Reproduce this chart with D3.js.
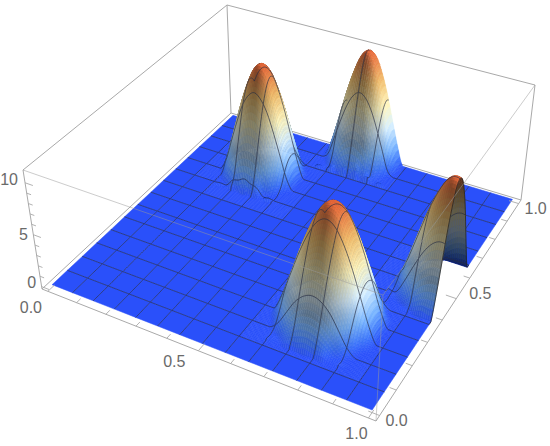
<!DOCTYPE html>
<html>
<head>
<meta charset="utf-8">
<script src="https://cdn.jsdelivr.net/npm/d3@7"></script>
<style>
html, body { margin: 0; padding: 0; background: #fff; }
text { font-family: "Liberation Sans", sans-serif; font-size: 16px; fill: #6a6a6a; }
</style>
</head>
<body>
<script>
var WIDTH = 550, HEIGHT = 446;

// tick values
var xTicks = [0, 0.1, 0.2, 0.3, 0.4, 0.5, 0.6, 0.7, 0.8, 0.9, 1];
var yTicks = [0, 0.1, 0.2, 0.3, 0.4, 0.5, 0.6, 0.7, 0.8, 0.9, 1];
var zTicks = [0, 1, 2, 3, 4, 5, 6, 7, 8, 9, 10];
var xyLabels = ["0.0", "0.5", "1.0"];
var zLabels = ["0", "5", "10"];

// where the four humps sit on the unit square, and how far they reach
var bumpX = [0.255, 0.505, 0.755, 0.99];
var bumpY = [0.76, 0.985, 0.25, 0.50];
var bumpReachX = [0.13, 0.125, 0.155, 0.145];
var bumpReachY = [0.13, 0.125, 0.16, 0.13];

// heights, rows run from low y to high y
var bump0 = [
  [0, 0, 0.3, 0, 0.4, 0, 0.5, 0, 0.4, 0, 0.4, 0, 0],
  [0, 0, 0, 0.3, 1.2, 1.8, 2, 1.8, 1.2, 0.3, 0, 0, 0],
  [0, 0, 0.7, 2, 3.3, 4.1, 4.4, 4.1, 3.3, 2, 0.7, 0, 0],
  [0, 0.3, 2, 3.8, 5.4, 6.5, 6.9, 6.5, 5.4, 3.8, 2, 0.3, 0],
  [0, 1.2, 3.3, 5.4, 7.3, 8.5, 9, 8.5, 7.3, 5.4, 3.3, 1.2, 0],
  [0, 1.8, 4.1, 6.5, 8.5, 10, 10.5, 10, 8.5, 6.5, 4.1, 1.8, 0],
  [0, 2, 4.4, 6.9, 9, 10.5, 11, 10.5, 9, 6.9, 4.4, 2, 0],
  [0, 1.8, 4.1, 6.5, 8.5, 10, 10.5, 10, 8.5, 6.5, 4.1, 1.8, 0],
  [0, 1.2, 3.3, 5.4, 7.3, 8.5, 9, 8.5, 7.3, 5.4, 3.3, 1.2, 0],
  [0, 0.3, 2, 3.8, 5.4, 6.5, 6.9, 6.5, 5.4, 3.8, 2, 0.3, 0],
  [0, 0, 0.7, 2, 3.3, 4.1, 4.4, 4.1, 3.3, 2, 0.7, 0, 0],
  [0, 0, 0, 0.3, 1.2, 1.8, 2, 1.8, 1.2, 0.3, 0, 0, 0],
  [0, 0, 0, 0, 0, 0, 0, 0, 0, 0, 0, 0, 0]
];
var bump1 = [
  [0, 0.4, 0, 0.7, 0, 0.8, 0, 0.8, 0, 0.7, 0, 0.4, 0],
  [0, 0, 0.2, 0.5, 1.2, 1.8, 2, 1.8, 1.2, 0.5, 0.2, 0, 0],
  [0, 0, 0.7, 2, 3.3, 4.1, 4.4, 4.1, 3.3, 2, 0.7, 0, 0],
  [0, 0.3, 2, 3.8, 5.4, 6.5, 6.9, 6.5, 5.4, 3.8, 2, 0.3, 0],
  [0, 1.2, 3.3, 5.4, 7.3, 8.5, 9, 8.5, 7.3, 5.4, 3.3, 1.2, 0],
  [0, 1.8, 4.1, 6.5, 8.5, 10, 10.5, 10, 8.5, 6.5, 4.1, 1.8, 0],
  [0, 2, 4.4, 6.9, 9, 10.5, 11, 10.5, 9, 6.9, 4.4, 2, 0],
  [0, 1.8, 4.1, 6.5, 8.5, 10, 10.5, 10, 8.5, 6.5, 4.1, 1.8, 0],
  [0, 1.2, 3.3, 5.4, 7.3, 8.5, 9, 8.5, 7.3, 5.4, 3.3, 1.2, 0],
  [0, 0.3, 2, 3.8, 5.4, 6.5, 6.9, 6.5, 5.4, 3.8, 2, 0.3, 0],
  [0, 0, 0.7, 2, 3.3, 4.1, 4.4, 4.1, 3.3, 2, 0.7, 0, 0],
  [0, 0, 0, 0.3, 1.2, 1.8, 2, 1.8, 1.2, 0.3, 0, 0, 0],
  [0, 0, 0, 0, 0, 0, 0, 0, 0, 0, 0, 0, 0]
];
var bump2 = [
  [0, 0, 0.2, 0, 0.25, 0, 0.25, 0, 0.25, 0, 0.2, 0, 0],
  [0, 0, 0.1, 0.4, 1.2, 1.8, 2, 1.8, 1.2, 0.4, 0.1, 0, 0],
  [0, 0, 0.7, 2, 3.3, 4.1, 4.4, 4.1, 3.3, 2, 0.7, 0, 0],
  [0, 0.3, 2, 3.8, 5.4, 6.5, 6.9, 6.5, 5.4, 3.8, 2, 0.3, 0],
  [0, 1.2, 3.3, 5.4, 7.3, 8.5, 9, 8.5, 7.3, 5.4, 3.3, 1.2, 0],
  [0, 1.8, 4.1, 6.5, 8.5, 10, 10.5, 10, 8.5, 6.5, 4.1, 1.8, 0],
  [0, 2, 4.4, 6.9, 9, 10.5, 11, 10.5, 9, 6.9, 4.4, 2, 0],
  [0, 1.8, 4.1, 6.5, 8.5, 10, 10.5, 10, 8.5, 6.5, 4.1, 1.8, 0],
  [0, 1.2, 3.3, 5.4, 7.3, 8.5, 9, 8.5, 7.3, 5.4, 3.3, 1.2, 0],
  [0, 0.3, 2, 3.8, 5.4, 6.5, 6.9, 6.5, 5.4, 3.8, 2, 0.3, 0],
  [0, 0, 0.7, 2, 3.3, 4.1, 4.4, 4.1, 3.3, 2, 0.7, 0, 0],
  [0, 0, 0, 0.3, 1.2, 1.8, 2, 1.8, 1.2, 0.3, 0, 0, 0],
  [0, 0, 0, 0, 0, 0, 0, 0, 0, 0, 0, 0, 0]
];
var bump3 = [
  [0, 0, 0, 0.2, 0, 0.3, 0, 0.3, 0, 0.2, 0, 0, 0],
  [0, 0, 0, 0.3, 1.2, 1.8, 2, 1.8, 1.2, 0.3, 0, 0, 0],
  [0, 0.2, 0.7, 2, 3.3, 4.1, 4.4, 4.1, 3.3, 2, 0.7, 0, 0],
  [0.3, 0.3, 2, 3.8, 5.4, 6.5, 6.9, 6.5, 5.4, 3.8, 2, 0.3, 0],
  [0, 1.2, 3.3, 5.4, 7.3, 8.5, 9, 8.5, 7.3, 5.4, 3.3, 1.2, 0],
  [0.3, 1.8, 4.1, 6.5, 8.5, 10, 10.5, 10, 8.5, 6.5, 4.1, 1.8, 0],
  [0, 2, 4.4, 6.9, 9, 10.5, 11, 10.5, 9, 6.9, 4.4, 2, 0],
  [0.3, 1.8, 4.1, 6.5, 8.5, 10, 10.5, 10, 8.5, 6.5, 4.1, 1.8, 0],
  [0, 1.2, 3.3, 5.4, 7.3, 8.5, 9, 8.5, 7.3, 5.4, 3.3, 1.2, 0],
  [0, 0.3, 2, 3.8, 5.4, 6.5, 6.9, 6.5, 5.4, 3.8, 2, 0.3, 0],
  [0, 0, 0.7, 2, 3.3, 4.1, 4.4, 4.1, 3.3, 2, 0.7, 0, 0],
  [0, 0, 0, 0.3, 1.2, 1.8, 2, 1.8, 1.2, 0.3, 0, 0, 0],
  [0, 0, 0, 0, 0, 0, 0, 0, 0, 0, 0, 0, 0]
];
var bumps = [bump0, bump1, bump2, bump3];

// height colours
var colorHeights = [0, 0.8, 2, 4, 6, 8.3, 11];
var colorValues = ["#2a50fa", "#3f78fb", "#78b4ff", "#d8f0ff", "#fff6c0", "#f2c070", "#e8683a"];

var zTop = 11;
var meshCells = 14, subCells = 12;

// pixel corners of the plot box, order (0,0) (1,0) (1,1) (0,1)
var boxFloor = [[42, 289], [376, 421], [521, 200], [231, 113]];
var boxRoof = [[23, 170], [383, 295], [535, 85], [227, 5]];

var x = d3.scaleLinear().domain([0, 1]).range([0.02, 0.98]);
var y = d3.scaleLinear().domain([0, 1]).range([0.02, 0.98]);
var z = d3.scaleLinear().domain([0, zTop]).range([0.02, 0.98]);
var heightColor = d3.scaleLinear().domain(colorHeights).range(colorValues).clamp(true);

// unit square to quad (Heckbert)
function quadMap(q) {
  var dx1 = q[1][0] - q[2][0], dx2 = q[3][0] - q[2][0], sx = q[0][0] - q[1][0] + q[2][0] - q[3][0];
  var dy1 = q[1][1] - q[2][1], dy2 = q[3][1] - q[2][1], sy = q[0][1] - q[1][1] + q[2][1] - q[3][1];
  var d = dx1 * dy2 - dx2 * dy1;
  var g = (sx * dy2 - dx2 * sy) / d, h = (dx1 * sy - sx * dy1) / d;
  var a = q[1][0] - q[0][0] + g * q[1][0], b = q[3][0] - q[0][0] + h * q[3][0];
  var e = q[1][1] - q[0][1] + g * q[1][1], f = q[3][1] - q[0][1] + h * q[3][1];
  return function(s, t) {
    var w = g * s + h * t + 1;
    return [(a * s + b * t + q[0][0]) / w, (e * s + f * t + q[0][1]) / w];
  };
}
var floorAt = quadMap(boxFloor), roofAt = quadMap(boxRoof);

// s, t, r are box fractions
function boxPoint(s, t, r) {
  var p = floorAt(s, t), q = roofAt(s, t);
  return [p[0] + (q[0] - p[0]) * r, p[1] + (q[1] - p[1]) * r];
}
function project(u, v, h) { return boxPoint(x(u), y(v), z(h)); }

function spline(a, b, c, d, t) {
  return b + 0.5 * t * (c - a + t * (2 * a - 5 * b + 4 * c - d + t * (3 * (b - c) + d - a)));
}
function cell(tb, j, i) {
  j = Math.max(0, Math.min(12, j)); i = Math.max(0, Math.min(12, i));
  return tb[j][i];
}
function heightAt(u, v) {
  var total = 0;
  bumps.forEach(function(tb, k) {
    var fi = (u - bumpX[k]) / bumpReachX[k] * 6 + 6;
    var fj = (v - bumpY[k]) / bumpReachY[k] * 6 + 6;
    if (fi < 0 || fi > 12 || fj < 0 || fj > 12) return;
    var i = Math.min(11, Math.floor(fi)), j = Math.min(11, Math.floor(fj));
    var rows = [-1, 0, 1, 2].map(function(dj) {
      return spline(cell(tb, j + dj, i - 1), cell(tb, j + dj, i), cell(tb, j + dj, i + 1), cell(tb, j + dj, i + 2), fi - i);
    });
    total += spline(rows[0], rows[1], rows[2], rows[3], fj - j);
  });
  return Math.max(0, total);
}

// one light from the right and behind, a weaker one from the left
var lightA = [0.6, 0.35, 0.7], lightB = [-0.7, 0.2, 0.5];
function shade(u, v, h, under) {
  var e = 0.008;
  var du = (heightAt(Math.min(1, u + e), v) - heightAt(Math.max(0, u - e), v)) / (2 * e) * 0.035;
  var dv = (heightAt(u, Math.min(1, v + e)) - heightAt(u, Math.max(0, v - e))) / (2 * e) * 0.035;
  var len = Math.sqrt(du * du + dv * dv + 1);
  var dotA = (-du * lightA[0] - dv * lightA[1] + lightA[2]) / len;
  var dotB = (-du * lightB[0] - dv * lightB[1] + lightB[2]) / len;
  var b = under ? 0.38 : Math.min(1, 0.52 + 0.78 * Math.max(0, dotA) + 0.235 * Math.max(0, dotB));
  // the foot stays bright blue
  if (!under) b = b + (1 - b) * Math.max(0, 1 - h / 3) * 0.8;
  var c = d3.rgb(heightColor(h));
  return d3.rgb(c.r * b, c.g * b, c.b * b).formatHex();
}

var svg = d3.select("body").append("svg").attr("width", WIDTH).attr("height", HEIGHT)
            .style("display", "block");

function lineThrough(pts) { return "M" + pts.map(function(p) { return p[0].toFixed(2) + "," + p[1].toFixed(2); }).join("L"); }

// box edges behind the surface
var backEdges = [
  [[0, 0, 0], [0, 1, 0]], [[0, 1, 0], [1, 1, 0]],
  [[0, 1, 0], [0, 1, 1]], [[0, 1, 1], [1, 1, 1]], [[0, 0, 1], [0, 1, 1]],
  [[1, 1, 0], [1, 1, 1]], [[0, 0, 0], [0, 0, 1]],
  [[0, 0, 0], [1, 0, 0]], [[1, 0, 0], [1, 1, 0]]
];
var frontEdges = [
  [[0, 0, 1], [1, 0, 1]], [[1, 0, 1], [1, 1, 1]], [[1, 0, 0], [1, 0, 1]]
];
function drawEdges(edges, cls, stroke, op) {
  svg.append("g").selectAll("path").data(edges).join("path").attr("class", cls)
     .attr("d", function(e) { return lineThrough([boxPoint.apply(null, e[0]), boxPoint.apply(null, e[1])]); })
     .attr("fill", "none").attr("stroke", stroke).attr("stroke-width", 1).attr("opacity", op);
}
drawEdges(backEdges, "edge back", "#a9a9a9", 1);

// painter's order: far corner (0,1) first
var marks = [];
function addQuad(u0, u1, v0, v1) {
  var h00 = heightAt(u0, v0), h10 = heightAt(u1, v0), h11 = heightAt(u1, v1), h01 = heightAt(u0, v1);
  var p00 = project(u0, v0, h00), p10 = project(u1, v0, h10), p11 = project(u1, v1, h11), p01 = project(u0, v1, h01);
  var ax = p11[0] - p00[0], ay = p11[1] - p00[1], bx = p01[0] - p10[0], by = p01[1] - p10[1];
  var under = (ax * by - ay * bx) > 0;
  var um = (u0 + u1) / 2, vm = (v0 + v1) / 2;
  var col = shade(um, vm, (h00 + h10 + h11 + h01) / 4, under);
  marks.push({ d: lineThrough([p00, p10, p11, p01]) + "Z", fill: col, stroke: col, w: 0.5, o: 1 });
}
function addMesh(u0, v0, u1, v1, dark) {
  var pts = [];
  for (var n = 0; n <= subCells; n++) {
    var u = u0 + (u1 - u0) * n / subCells, v = v0 + (v1 - v0) * n / subCells;
    pts.push(project(u, v, heightAt(u, v)));
  }
  marks.push({ d: lineThrough(pts), fill: "none", stroke: dark ? "#222" : "#262b40", w: 0.9, o: dark ? 0.8 : 0.72 });
}
for (var cv = meshCells - 1; cv >= 0; cv--) {
  for (var cu = 0; cu < meshCells; cu++) {
    var u0 = cu / meshCells, u1 = (cu + 1) / meshCells;
    var v0 = cv / meshCells, v1 = (cv + 1) / meshCells;
    var raised = false;
    for (var a = 0; a <= subCells && !raised; a++) {
      for (var b = 0; b <= subCells; b++) {
        if (heightAt(u0 + (u1 - u0) * a / subCells, v0 + (v1 - v0) * b / subCells) > 0.001) { raised = true; break; }
      }
    }
    if (!raised) {
      addQuad(u0, u1, v0, v1);
    } else {
      for (var sv = subCells - 1; sv >= 0; sv--) {
        for (var su = 0; su < subCells; su++) {
          addQuad(u0 + (u1 - u0) * su / subCells, u0 + (u1 - u0) * (su + 1) / subCells,
                  v0 + (v1 - v0) * sv / subCells, v0 + (v1 - v0) * (sv + 1) / subCells);
        }
      }
    }
    if (cv < meshCells - 1) addMesh(u0, v1, u1, v1, false);
    if (cu > 0) addMesh(u0, v0, u0, v1, false);
    if (cu == meshCells - 1 && raised) addMesh(1, v0, 1, v1, true);
  }
}
svg.append("g").attr("class", "surface").selectAll("path").data(marks).join("path")
   .attr("d", function(m) { return m.d; })
   .attr("fill", function(m) { return m.fill; })
   .attr("stroke", function(m) { return m.stroke; })
   .attr("stroke-width", function(m) { return m.w; })
   .attr("stroke-opacity", function(m) { return m.o; });

drawEdges(frontEdges, "edge front", "#9a9a9a", 0.5);

// ticks, pointing into the box
function drawTicks(data, from, to, cls) {
  svg.append("g").attr("class", cls).selectAll("path").data(data).join("path")
     .attr("d", function(t) { return lineThrough([from(t), to(t)]); })
     .attr("fill", "none").attr("stroke", "#a9a9a9").attr("stroke-width", 0.9);
}
drawTicks(xTicks, function(t) { return boxPoint(x(t), 0, 0); },
          function(t) { return boxPoint(x(t), Math.round(t * 10) % 5 == 0 ? 0.03 : 0.018, 0); }, "x ticks");
drawTicks(yTicks, function(t) { return boxPoint(1, y(t), 0); },
          function(t) { return boxPoint(Math.round(t * 10) % 5 == 0 ? 0.97 : 0.982, y(t), 0); }, "y ticks");
drawTicks(zTicks, function(t) { return boxPoint(0, 0, z(t)); },
          function(t) { return boxPoint(t % 5 == 0 ? 0.025 : 0.014, 0, z(t)); }, "z ticks");

function drawLabels(labels, spot, nudge) {
  svg.append("g").selectAll("text").data(labels).join("text")
     .attr("x", function(l, i) { return spot(+l)[0] + nudge[i][0]; })
     .attr("y", function(l, i) { return spot(+l)[1] + nudge[i][1]; })
     .attr("text-anchor", "middle").attr("dominant-baseline", "central")
     .text(function(l) { return l; });
}
drawLabels(xyLabels, function(t) { return boxPoint(x(t), 0, 0); }, [[-17, 16], [-24, 11], [-12, 15]]);
drawLabels(xyLabels, function(t) { return boxPoint(1, y(t), 0); }, [[17, 5], [24, -5], [17, 5]]);
drawLabels(zLabels, function(t) { return boxPoint(0, 0, z(t)); }, [[-10, -4], [-10, 0], [-16, -3]]);
</script>
</body>
</html>
